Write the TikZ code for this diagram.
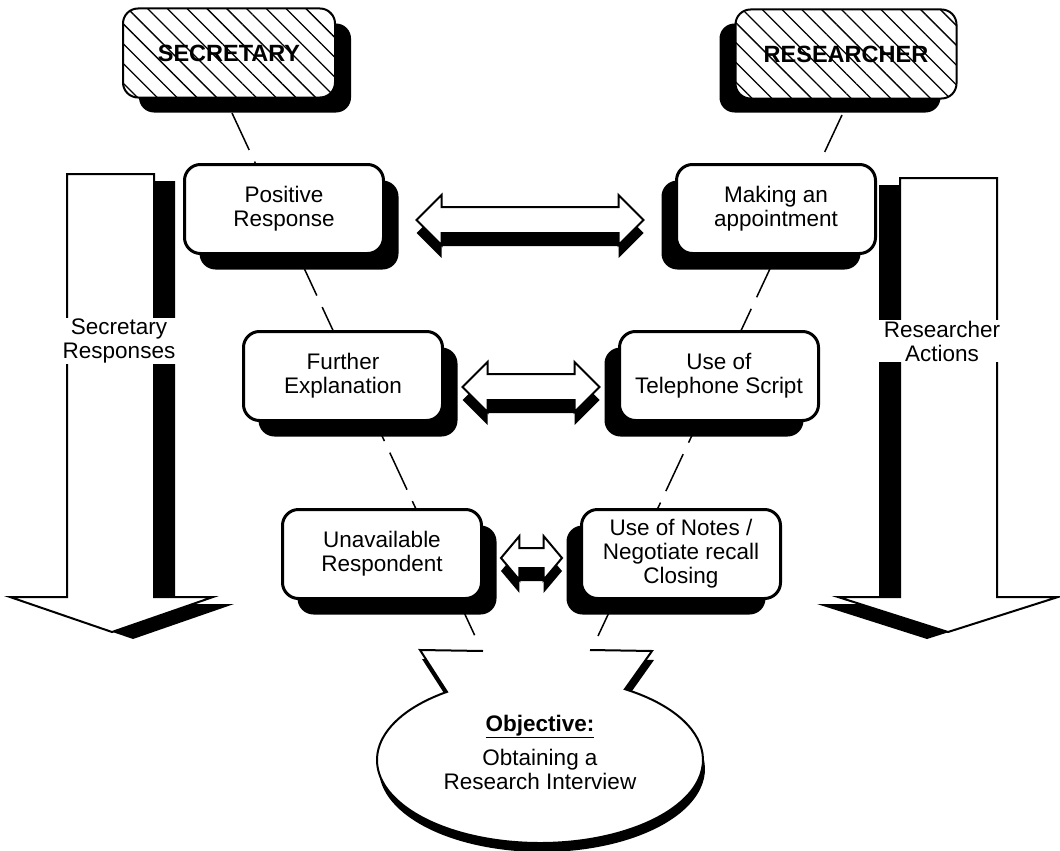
\documentclass[tikz,border=0pt]{standalone}
\usepackage{fontspec}
\setmainfont{Liberation Sans}
\usetikzlibrary{shapes.arrows, positioning, shadows, calc, patterns.meta, backgrounds}

\begin{document}
\begin{tikzpicture}[
    x=1pt, y=-1pt,
    every node/.style={font=\fontsize{22.5}{24}\selectfont},
    stepbox/.style={draw=black, fill=white, line width=3pt, rounded corners=16pt, minimum width=199pt, minimum height=89pt, inner sep=4pt, align=center},
    shadowright/.style={drop shadow={shadow xshift=15pt, shadow yshift=-16pt, fill=black, opacity=1}},
    shadowleft/.style={drop shadow={shadow xshift=-15pt, shadow yshift=-16pt, fill=black, opacity=1}},
    rolebox/.style={draw=black, line width=2pt, rounded corners=15pt, minimum height=89pt, preaction={fill=white}, pattern={Lines[angle=-45, distance=14pt, line width=1.3pt]}, font=\fontsize{23.5}{24}\selectfont\bfseries},
    twoway/.style={double arrow, draw=black, fill=white, line width=2pt, inner xsep=0pt, inner ysep=12pt, double arrow head extend=12pt, drop shadow={shadow xshift=0pt, shadow yshift=-13pt, fill=black, opacity=1}},
    lane/.style={fill=white, draw=black, line width=2pt, line join=miter},
    lanelabel/.style={fill=white, align=center, inner xsep=5pt, inner ysep=1pt},
    spine/.style={line width=1.5pt, dash pattern=on 40.8pt off 12.7pt},
    goal/.style={fill=white, draw=black, line width=2pt, line join=miter, drop shadow={shadow xshift=2pt, shadow yshift=-9pt, fill=black, opacity=1}}
]
\useasboundingbox (0,0) rectangle (1060,851);

% Lanes (big down arrows)
\filldraw[lane, drop shadow={shadow xshift=21pt, shadow yshift=-7pt, fill=black, opacity=1}] (67,174) -- (154,174) -- (154,597) -- (213,597) -- (112,632) -- (10,597) -- (67,597) -- cycle;
\filldraw[lane, drop shadow={shadow xshift=-21pt, shadow yshift=-7pt, fill=black, opacity=1}] (900,178) -- (997,178) -- (997,597) -- (1058,597) -- (948,632) -- (838,597) -- (900,597) -- cycle;
\node[lanelabel] (seclane) at (119,341) {Secretary\\Responses};
\node[lanelabel, inner xsep=9pt] (reslane) at (942,341) {Researcher\\Actions};

% Roles
\node[drop shadow={shadow xshift=16pt, shadow yshift=-15pt, fill=black, opacity=1}, rolebox, minimum width=212pt] (sec) at (229,53) {SECRETARY};
\node[drop shadow={shadow xshift=-16pt, shadow yshift=-14pt, fill=black, opacity=1}, rolebox, minimum width=221pt] (res) at (846,54) {RESEARCHER};

% Secretary side
\node[stepbox, shadowright] (pos) at (284,209) {Positive\\Response};
\node[stepbox, shadowright] (further) at (343,376) {Further\\Explanation};
\node[stepbox, shadowright] (unav) at (382,554) {Unavailable\\Respondent};

% Researcher side
\node[stepbox, shadowleft, right=290pt of pos] (appt) {Making an\\appointment};
\node[stepbox, shadowleft, right=174pt of further] (tele) {Use of\\Telephone Script};
\node[stepbox, shadowleft, right=97pt of unav] (notes) {Use of Notes /\\Negotiate recall\\Closing};

% Exchanges
\node[twoway, minimum height=227pt] (swap1) at ($(pos.east)!0.5!(appt.west)+(0,11)$) {};
\node[twoway, minimum height=137pt] (swap2) at ($(further.east)!0.5!(tele.west)+(0,11)$) {};
\node[twoway, minimum height=61pt, inner ysep=9pt, double arrow tip angle=100] (swap3) at ($(unav.east)!0.5!(notes.west)+(0,4)$) {};

% Objective
\coordinate (goalc) at (540,760);
\filldraw[goal] (483,651) -- (420,650) -- ($(goalc)+(235.2:163 and 83)$) arc[start angle=235.2, end angle=-58.6, x radius=163, y radius=83] -- (652,651) -- (590,650);
\node[align=center] (goaltext) at (540,752) {\textbf{\underline{Objective:}}\\[10pt]Obtaining a\\Research Interview};

% Spines
\coordinate (lspinetop) at (232,113);
\coordinate (lspineend) at (475,636);
\coordinate (rspinetop) at (842,115);
\coordinate (rspineend) at (598,636);
\begin{scope}[on background layer]
\draw[spine] (lspinetop) -- (lspineend);
\draw[spine] (rspinetop) -- (rspineend);
\end{scope}

\end{tikzpicture}
\end{document}
